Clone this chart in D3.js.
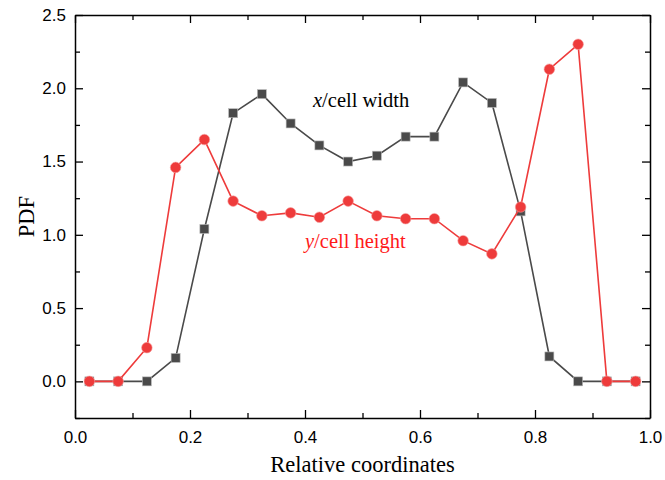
<!DOCTYPE html>
<html><head><meta charset="utf-8">
<script src="https://cdn.jsdelivr.net/npm/d3@7/dist/d3.min.js"></script>
<style>body{margin:0;background:#fff}</style>
</head><body>
<svg id="c" width="665" height="480"></svg>
<script>
const xPos = [0.025,0.075,0.125,0.175,0.225,0.275,0.325,0.375,0.425,0.475,0.525,0.575,0.625,0.675,0.725,0.775,0.825,0.875,0.925,0.975];
const widthPDF = [0,0,0,0.16,1.04,1.83,1.96,1.76,1.61,1.50,1.54,1.67,1.67,2.04,1.90,1.16,0.17,0,0,0];
const heightPDF = [0,0,0.23,1.46,1.65,1.23,1.13,1.15,1.12,1.23,1.13,1.11,1.11,0.96,0.87,1.19,2.13,2.30,0,0];
const xTicks = [0,0.2,0.4,0.6,0.8,1.0];
const yTicks = [0,0.5,1.0,1.5,2.0,2.5];

const svg = d3.select("#c");
const L=75,R=650,T=15,B=418;
const x = d3.scaleLinear().domain([0,1]).range([L,R]);
const y = d3.scaleLinear().domain([-0.25,2.5]).range([B,T]);

const tickFont = "'Liberation Sans', Arial, sans-serif";
const serif = "'Liberation Serif', 'Times New Roman', serif";

const minorX = d3.range(0,1.0001,0.1);
const minorY = d3.range(-0.25,2.5001,0.25);
function styleAxis(g){ g.select(".domain").attr("stroke","#000").attr("stroke-width",1.5); g.selectAll(".tick line").attr("stroke","#000").attr("stroke-width",1.3); }
const isMajor = (arr)=>d=>arr.some(t=>Math.abs(t-d)<1e-6);

const xb = svg.append("g").attr("transform",`translate(0,${B})`)
  .call(d3.axisBottom(x).tickValues(minorX).tickSize(-5).tickSizeOuter(0).tickFormat(""));
xb.selectAll(".tick").filter(isMajor(xTicks)).select("line").attr("y2",-8);
xb.selectAll(".tick").filter(isMajor(xTicks)).select("text")
  .text(d=>d3.format(".1f")(d)).attr("y",13).attr("dy","0.71em");
xb.selectAll("text").attr("font-family",tickFont).attr("font-size",17).attr("fill","#000");
styleAxis(xb);

const xt = svg.append("g").attr("transform",`translate(0,${T})`)
  .call(d3.axisTop(x).tickValues(minorX).tickSize(-5).tickSizeOuter(0).tickFormat(""));
xt.selectAll(".tick").filter(isMajor(xTicks)).select("line").attr("y2",8);
styleAxis(xt);

const yl = svg.append("g").attr("transform",`translate(${L},0)`)
  .call(d3.axisLeft(y).tickValues(minorY).tickSize(-5).tickSizeOuter(0).tickFormat(""));
yl.selectAll(".tick").filter(isMajor(yTicks)).select("line").attr("x2",8);
yl.selectAll(".tick").filter(isMajor(yTicks)).select("text")
  .text(d=>d3.format(".1f")(d)).attr("x",-9);
yl.selectAll("text").attr("font-family",tickFont).attr("font-size",17).attr("fill","#000");
styleAxis(yl);

const yr = svg.append("g").attr("transform",`translate(${R},0)`)
  .call(d3.axisRight(y).tickValues(minorY).tickSize(-5).tickSizeOuter(0).tickFormat(""));
yr.selectAll(".tick").filter(isMajor(yTicks)).select("line").attr("x2",-8);
styleAxis(yr);

svg.append("text").attr("x",(L+R)/2).attr("y",472).attr("text-anchor","middle")
  .attr("font-family",serif).attr("font-size",22.5).text("Relative coordinates");
svg.append("text").attr("transform",`translate(34,${(T+B)/2}) rotate(-90)`).attr("text-anchor","middle")
  .attr("font-family",serif).attr("font-size",22.5).text("PDF");

const line = d3.line().x((d,i)=>x(xPos[i])).y(d=>y(d));
const black="#4a4a4a", red="#ee3b3b";
svg.append("path").datum(widthPDF).attr("d",line).attr("fill","none").attr("stroke",black).attr("stroke-width",1.6);
svg.append("g").selectAll("rect").data(widthPDF).join("rect")
  .attr("x",(d,i)=>x(xPos[i])-4.5).attr("y",d=>y(d)-4.5).attr("width",9).attr("height",9)
  .attr("fill",black).attr("stroke","#bbb").attr("stroke-width",0.6);

svg.append("path").datum(heightPDF).attr("d",line).attr("fill","none").attr("stroke",red).attr("stroke-width",1.6);
svg.append("g").selectAll("circle").data(heightPDF).join("circle")
  .attr("cx",(d,i)=>x(xPos[i])).attr("cy",d=>y(d)).attr("r",5.3)
  .attr("fill",red).attr("stroke","#f7a0a0").attr("stroke-width",0.6);

const a1 = svg.append("text").attr("x",313).attr("y",107).attr("font-family",serif).attr("font-size",20.5).attr("fill","#000");
a1.append("tspan").attr("font-style","italic").text("x");
a1.append("tspan").text("/cell width");
const a2 = svg.append("text").attr("x",305).attr("y",248).attr("font-family",serif).attr("font-size",20.5).attr("fill","#ff1a1a");
a2.append("tspan").attr("font-style","italic").text("y");
a2.append("tspan").text("/cell height");
</script>
</body></html>
